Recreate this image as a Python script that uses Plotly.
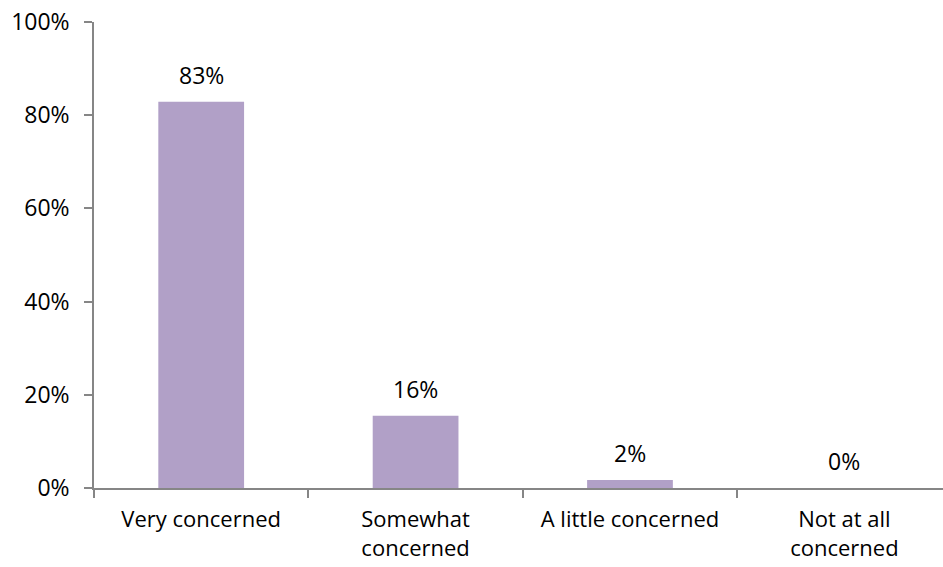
import plotly.graph_objects as go

categories = ["Very concerned", "Somewhat<br>concerned", "A little concerned", "Not at all<br>concerned"]
values = [82.9, 15.5, 1.7, 0.0]
labels = ["83%", "16%", "2%", "0%"]
y_ticks = [0, 20, 40, 60, 80, 100]
y_tick_text = ["0%", "20%", "40%", "60%", "80%", "100%"]

BAR = "#B1A0C7"
AXIS = "#868686"
FONT = dict(family="Open Sans", size=23, color="#000000")
XFONT = dict(family="Open Sans", size=22, color="#000000")

fig = go.Figure()
fig.add_trace(go.Bar(x=categories, y=values, marker=dict(color=BAR, line=dict(width=0)),
                     width=0.4, hoverinfo="skip"))

for c, v, t in zip(categories, values, labels):
    fig.add_annotation(x=c, y=v, text=t, showarrow=False, yanchor="bottom",
                       yshift=9, font=FONT)

fig.update_layout(
    width=943, height=567,
    margin=dict(l=94, r=0, t=22, b=79),
    paper_bgcolor="white", plot_bgcolor="white",
    showlegend=False,
    font=FONT,
)
fig.update_xaxes(range=[-0.5, 3.46], showline=True, linecolor=AXIS, linewidth=1.5,
                 ticks="outside", tickson="boundaries", ticklen=8, tickcolor=AXIS,
                 tickwidth=1.5, showgrid=False, ticklabelstandoff=11, tickfont=XFONT,
                 automargin=False)
fig.update_yaxes(range=[0, 100], tickvals=y_ticks, ticktext=y_tick_text,
                 showline=True, linecolor=AXIS, linewidth=1.5, ticks="outside",
                 ticklen=8, tickcolor=AXIS, tickwidth=1.5, showgrid=False,
                 zeroline=False, ticklabelstandoff=10, tickfont=FONT,
                 automargin=False)

fig.write_html("out.html")
